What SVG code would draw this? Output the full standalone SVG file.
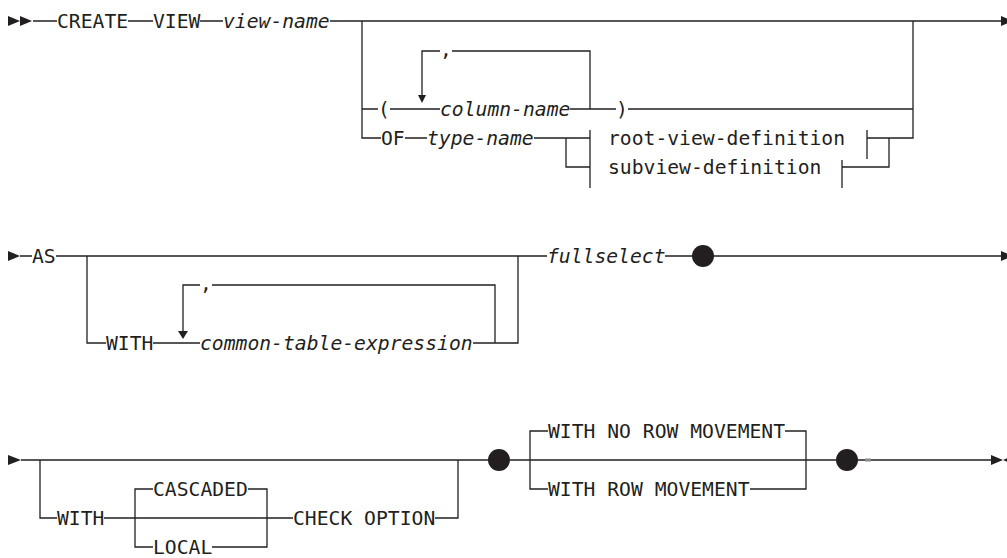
<svg xmlns="http://www.w3.org/2000/svg" width="1007" height="558" viewBox="0 0 1007 558">
<style>
.t{font-family:"DejaVu Sans Mono","Liberation Mono",monospace;font-size:19.7px;fill:#231f20}
.i{font-style:italic}
.c path{fill:none;stroke:#231f20;stroke-width:1.3}
.a{fill:#231f20}
</style>
<rect width="1007" height="558" fill="#fff"/>
<g id="connectors" class="c">
<path d="M33 21H57M128 21H153M200 21H223M330 21H1001"/>
<path d="M362 21V138H381M362 109H378M390 109H440M570 109H616M628 109H913"/>
<path d="M590 109V51H452M440 51H422V96"/>
<path d="M405 138H427M534 138H590M566 138V167H590M590 130V188"/>
<path d="M867 130V159M867 138H913V21M889 138V167H842M842 160V188"/>
<path d="M20 256H32M56 256H547M665 256H692M714 256H1001"/>
<path d="M87 256V343H106M153 343H200M473 343H518V256"/>
<path d="M495 343V285H212M200 285H183V331"/>
<path d="M21 460H488M510 460H836M858 460H991"/>
<path d="M40 460V518H57M104 518H293M435 518H458V460"/>
<path d="M153 489H135V547H153M248 489H267V547H212"/>
<path d="M548 431H530V489H548M785 431H806V489H750"/>
<rect x="865" y="458.5" width="6" height="3" fill="#8a8a8a" stroke="none"/>
</g>
<g id="markers" class="a">
<polygon points="8,16 8,26 20,21"/>
<polygon points="20,16 20,26 32,21"/>
<polygon points="1001,16 1001,26 1013,21"/>
<polygon points="418,95 426,95 422,103"/>
<polygon points="8,251 8,261 20,256"/>
<polygon points="1001,251 1001,261 1013,256"/>
<polygon points="178,331 188,331 183,339"/>
<polygon points="8,455 8,465 21,460"/>
<polygon points="991,455 991,465 1003,460"/>
<polygon points="1015,455 1015,465 1003,460"/>
</g>
<g id="n-create"><text class="t" x="57" y="28">CREATE</text></g>
<g id="n-view"><text class="t" x="153" y="28">VIEW</text></g>
<g id="n-view-name"><text class="t i" x="223" y="28">view-name</text></g>
<g id="n-lparen"><text class="t" x="378" y="116">(</text></g>
<g id="n-comma1"><text class="t" x="440" y="56">,</text></g>
<g id="n-column-name"><text class="t i" x="440" y="116">column-name</text></g>
<g id="n-rparen"><text class="t" x="616" y="116">)</text></g>
<g id="n-of"><text class="t" x="381" y="145">OF</text></g>
<g id="n-type-name"><text class="t i" x="427" y="145">type-name</text></g>
<g id="n-root-view-definition"><text class="t" x="608" y="145">root-view-definition</text></g>
<g id="n-subview-definition"><text class="t" x="608" y="174">subview-definition</text></g>
<g id="n-as"><text class="t" x="32" y="263">AS</text></g>
<g id="n-with1"><text class="t" x="106" y="350">WITH</text></g>
<g id="n-comma2"><text class="t" x="200" y="290">,</text></g>
<g id="n-cte"><text class="t i" x="200" y="350">common-table-expression</text></g>
<g id="n-fullselect"><text class="t i" x="547" y="263">fullselect</text></g>
<g id="n-dot1"><circle class="a" cx="703" cy="256" r="11"/></g>
<g id="n-with2"><text class="t" x="57" y="525">WITH</text></g>
<g id="n-cascaded"><text class="t" x="153" y="496">CASCADED</text></g>
<g id="n-local"><text class="t" x="153" y="554">LOCAL</text></g>
<g id="n-check-option"><text class="t" x="293" y="525">CHECK OPTION</text></g>
<g id="n-dot2"><circle class="a" cx="499" cy="460" r="11"/></g>
<g id="n-with-no-row-movement"><text class="t" x="548" y="438">WITH NO ROW MOVEMENT</text></g>
<g id="n-with-row-movement"><text class="t" x="548" y="496">WITH ROW MOVEMENT</text></g>
<g id="n-dot3"><circle class="a" cx="847" cy="460" r="11"/></g>
</svg>
